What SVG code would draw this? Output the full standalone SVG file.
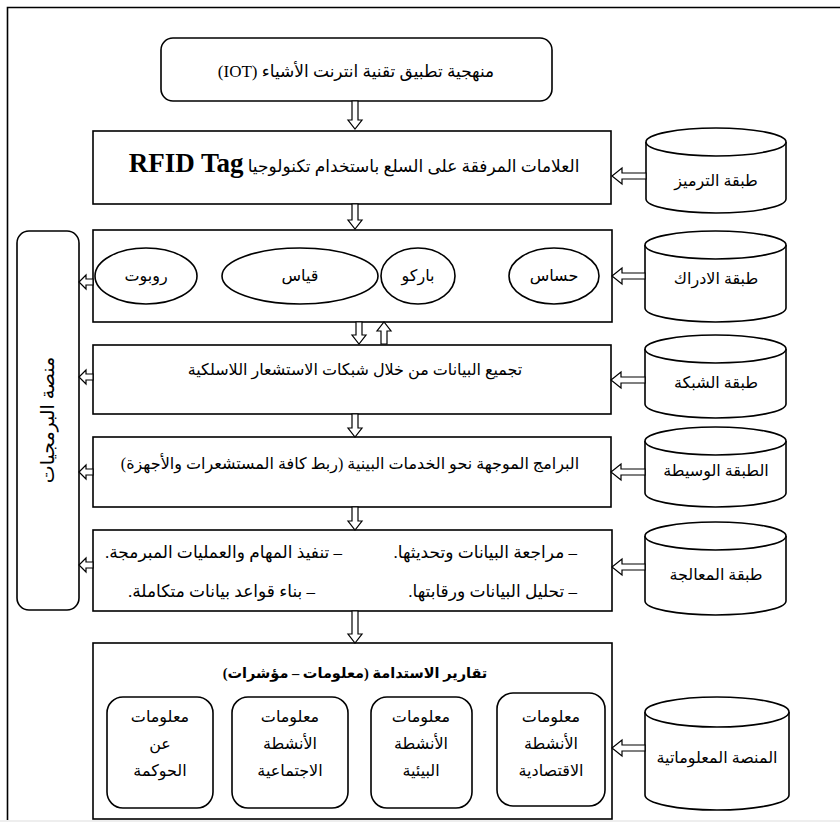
<svg xmlns="http://www.w3.org/2000/svg" width="840" height="823" viewBox="0 0 840 823">
<style>
.bx{fill:#fff;stroke:#000;stroke-width:1.6}
.ln{fill:none;stroke:#000;stroke-width:1.6}
.ar{fill:#fff;stroke:#000;stroke-width:1.2}
.t{font-family:"Liberation Serif","DejaVu Sans",serif;font-size:16px;fill:#000;text-anchor:middle;direction:rtl}
.r{font-family:"Liberation Serif","DejaVu Sans",serif;font-size:17px;fill:#000;text-anchor:start;direction:rtl}
</style>
<rect width="840" height="823" fill="#fff"/>
<g id="frame">
<path class="ln" d="M840,7.5 H7.5 V820" stroke-width="2"/>
<line x1="0" y1="821" x2="840" y2="821" stroke="#ddd" stroke-width="1"/>
</g>
<g id="title">
<rect class="bx" x="161" y="38" width="391" height="63" rx="12"/>
<text class="t" x="356" y="77" style="font-size:17px">منهجية تطبيق تقنية انترنت الأشياء (IOT)</text>
</g>
<g id="rfid">
<rect class="bx" x="93" y="131" width="518" height="73"/>
<text class="t" x="354" y="172" style="font-size:17px">العلامات المرفقة على السلع باستخدام تكنولوجيا <tspan style="font-size:27px;font-family:'Liberation Serif';font-weight:bold">RFID Tag</tspan></text>
</g>
<g id="perception">
<rect class="bx" x="93" y="230" width="519" height="92"/>
<ellipse class="bx" cx="554" cy="276" rx="45" ry="28"/>
<text class="t" x="554" y="281">حساس</text>
<ellipse class="bx" cx="418" cy="276" rx="37" ry="28"/>
<text class="t" x="418" y="281">باركو</text>
<ellipse class="bx" cx="300" cy="276" rx="78" ry="28"/>
<text class="t" x="300" y="281">قياس</text>
<ellipse class="bx" cx="146" cy="276" rx="51" ry="28"/>
<text class="t" x="146" y="281">روبوت</text>
</g>
<g id="network">
<rect class="bx" x="93" y="345" width="518" height="69"/>
<text class="t" x="355" y="375">تجميع البيانات من خلال شبكات الاستشعار اللاسلكية</text>
</g>
<g id="middleware">
<rect class="bx" x="93" y="437" width="518" height="70"/>
<text class="t" x="350" y="469">البرامج الموجهة نحو الخدمات البينية (ربط كافة المستشعرات والأجهزة)</text>
</g>
<g id="processing">
<rect class="bx" x="93" y="530" width="519" height="81"/>
<text class="r" x="577" y="558">– مراجعة البيانات وتحديثها.</text>
<text class="r" x="577" y="597">– تحليل البيانات ورقابتها.</text>
<text class="r" x="342" y="558">– تنفيذ المهام والعمليات المبرمجة.</text>
<text class="r" x="315" y="597">– بناء قواعد بيانات متكاملة.</text>
</g>
<g id="reports">
<rect class="bx" x="93" y="643" width="519" height="176"/>
<text class="t" x="355" y="678" style="font-size:14.5px;font-weight:bold">تقارير الاستدامة (معلومات – مؤشرات)</text>
<rect class="bx" x="497" y="693" width="108" height="113" rx="16"/>
<text class="t" x="551" y="722">معلومات</text>
<text class="t" x="551" y="749">الأنشطة</text>
<text class="t" x="551" y="776">الاقتصادية</text>
<rect class="bx" x="371" y="697" width="101" height="111" rx="16"/>
<text class="t" x="421" y="722">معلومات</text>
<text class="t" x="421" y="749">الأنشطة</text>
<text class="t" x="421" y="776">البيئية</text>
<rect class="bx" x="232" y="697" width="116" height="111" rx="16"/>
<text class="t" x="290" y="722">معلومات</text>
<text class="t" x="290" y="749">الأنشطة</text>
<text class="t" x="290" y="776">الاجتماعية</text>
<rect class="bx" x="107" y="697" width="106" height="111" rx="16"/>
<text class="t" x="160" y="722">معلومات</text>
<text class="t" x="160" y="749">عن</text>
<text class="t" x="160" y="776">الحوكمة</text>
</g>
<g id="platform">
<rect class="bx" x="17" y="231" width="62" height="379" rx="12"/>
<text class="t" transform="translate(54,420) rotate(-90)" x="0" y="0" style="font-size:19px">منصة البرمجيات</text>
</g>
<g id="cyl1">
<path class="bx" d="M646,142 V199 A70,14 0 0 0 786,199 V142"/>
<ellipse class="bx" cx="716" cy="142" rx="70" ry="14"/>
<text class="t" x="716" y="186">طبقة الترميز</text>
</g>
<g id="cyl2">
<path class="bx" d="M645,245 V308 A70.5,14 0 0 0 786,308 V245"/>
<ellipse class="bx" cx="715.5" cy="245" rx="70.5" ry="14"/>
<text class="t" x="716" y="284">طبقة الادراك</text>
</g>
<g id="cyl3">
<path class="bx" d="M645,349 V404 A70.5,14 0 0 0 786,404 V349"/>
<ellipse class="bx" cx="715.5" cy="349" rx="70.5" ry="14"/>
<text class="t" x="716" y="388">طبقة الشبكة</text>
</g>
<g id="cyl4">
<path class="bx" d="M645,441 V493 A70.5,14 0 0 0 786,493 V441"/>
<ellipse class="bx" cx="715.5" cy="441" rx="70.5" ry="14"/>
<text class="t" x="716" y="476">الطبقة الوسيطة</text>
</g>
<g id="cyl5">
<path class="bx" d="M645,536 V601 A70.5,14 0 0 0 786,601 V536"/>
<ellipse class="bx" cx="715.5" cy="536" rx="70.5" ry="14"/>
<text class="t" x="716" y="580">طبقة المعالجة</text>
</g>
<g id="cyl6">
<path class="bx" d="M645,712 V795 A72,15 0 0 0 789,795 V712"/>
<ellipse class="bx" cx="717" cy="712" rx="72" ry="15"/>
<text class="t" x="717" y="763">المنصة المعلوماتية</text>
</g>
<g id="connectors">
<path class="ar" d="M352,101 V120 H348 L355,129 L362,120 H358 V101 Z"/>
<path class="ar" d="M352,204 V220 H348 L355,229 L362,220 H358 V204 Z"/>
<path class="ar" d="M356,322 V335 H352 L359,344 L366,335 H362 V322 Z"/>
<path class="ar" d="M381,344 V331 H377 L384,322 L391,331 H387 V344 Z"/>
<path class="ar" d="M352,414 V428 H348 L355,437 L362,428 H358 V414 Z"/>
<path class="ar" d="M352,507 V521 H348 L355,530 L362,521 H358 V507 Z"/>
<path class="ar" d="M352,611 V634 H348 L355,643 L362,634 H358 V611 Z"/>
<path class="ar" d="M646,173 H622 V168 L612,176 L622,184 V179 H646 Z"/>
<path class="ar" d="M645,273 H622 V268 L612,276 L622,284 V279 H645 Z"/>
<path class="ar" d="M645,377 H621 V372 L611,380 L621,388 V383 H645 Z"/>
<path class="ar" d="M645,469 H621 V464 L611,472 L621,480 V475 H645 Z"/>
<path class="ar" d="M645,564 H622 V559 L612,567 L622,575 V570 H645 Z"/>
<path class="ar" d="M645,745 H622 V740 L612,748 L622,756 V751 H645 Z"/>
<path class="ar" d="M93,279 H86 V275 L79,282 L86,289 V285 H93 Z"/>
<path class="ar" d="M93,374 H86 V370 L79,377 L86,384 V380 H93 Z"/>
<path class="ar" d="M93,469 H86 V465 L79,472 L86,479 V475 H93 Z"/>
<path class="ar" d="M93,562 H86 V558 L79,565 L86,572 V568 H93 Z"/>
</g>
</svg>
